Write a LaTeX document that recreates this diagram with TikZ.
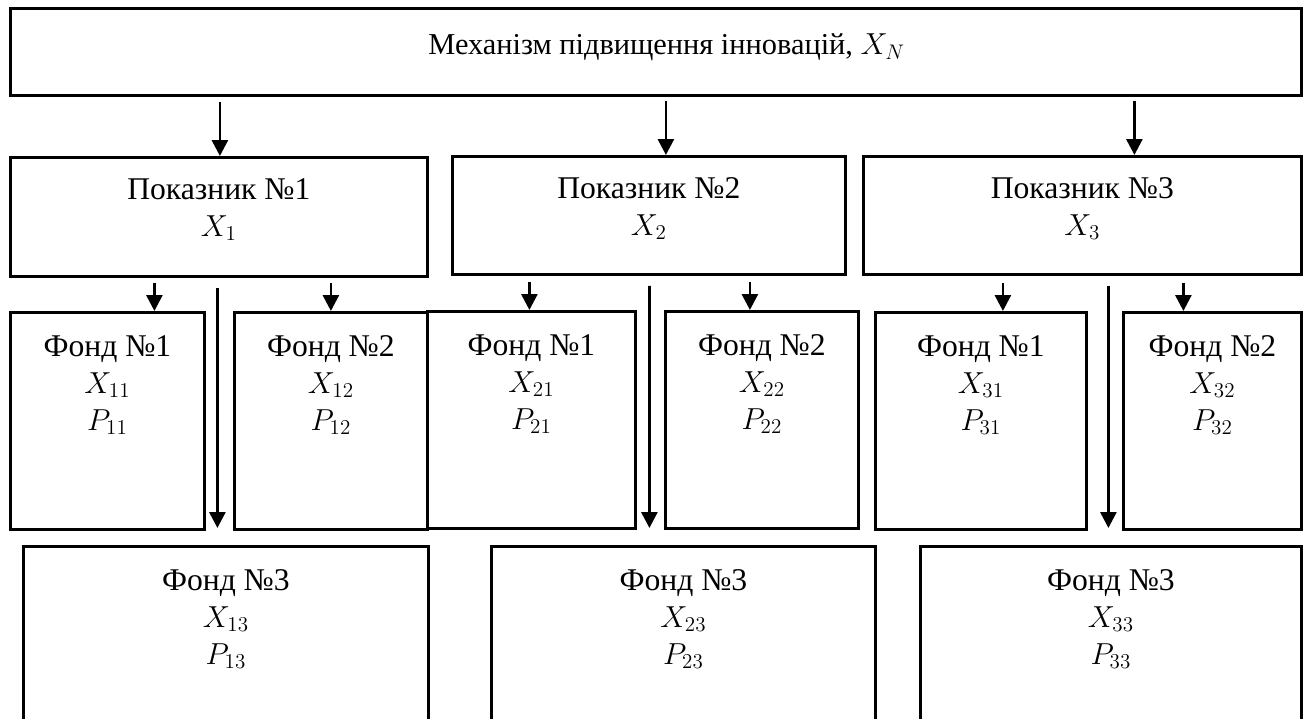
\documentclass[tikz,border=0pt]{standalone}
\usepackage{fontspec}
\setmainfont{Liberation Serif}
\usepackage{tikz}
\usetikzlibrary{arrows.meta, positioning}

\newlength{\px}
\setlength{\px}{0.02cm}
% width, height, top gap, text
\newcommand{\boxtext}[4]{\parbox[t][#2\px][t]{#1\px}{\centering\vspace*{#3\px}#4}}

\tikzset{
    box/.style={draw, rectangle, line width=1.6pt, inner sep=0pt, anchor=north west,
        font=\fontsize{18}{21}\selectfont},
    arr/.style={-{Triangle[width=9pt,length=9pt]}, line width=1.6pt}
}

\begin{document}
\begin{tikzpicture}[x=0.02cm, y=-0.02cm]
    \useasboundingbox (0,0) rectangle (1306,719);
    \clip (0,0) rectangle (1306,719);

    \node[box, line width=1.9pt, font=\fontsize{17.28}{21}\selectfont] (mech) at (9,7) {\boxtext{1291}{87}{25}{\hspace*{21\px}Механізм підвищення інновацій, $X_N$}};

    \node[box] (p1) at (9,156) {\boxtext{417}{119}{21}{Показник №1\\ $X_1$}};
    \node[box] (p2) at (451,155) {\boxtext{393}{118}{21}{Показник №2\\ $X_2$}};
    \node[box] (p3) at (862,155) {\boxtext{438}{118}{21}{Показник №3\\ $X_3$}};

    \node[box] (f11) at (9,311) {\boxtext{194}{217}{23}{Фонд №1\\ $X_{11}$\\ $P_{11}$}};
    \node[box] (f12) at (233,311) {\boxtext{193}{217}{23}{Фонд №2\\ $X_{12}$\\ $P_{12}$}};
    \node[box] (f21) at (426,310) {\boxtext{208}{217}{23}{Фонд №1\\ $X_{21}$\\ $P_{21}$}};
    \node[box] (f22) at (664,310) {\boxtext{193}{217}{23}{Фонд №2\\ $X_{22}$\\ $P_{22}$}};
    \node[box] (f31) at (874,311) {\boxtext{211}{217}{23}{Фонд №1\\ $X_{31}$\\ $P_{31}$}};
    \node[box] (f32) at (1122,311) {\boxtext{178}{217}{23}{Фонд №2\\ $X_{32}$\\ $P_{32}$}};

    \node[box] (f13) at (22,545) {\boxtext{405}{190}{23}{Фонд №3\\ $X_{13}$\\ $P_{13}$}};
    \node[box] (f23) at (490,545) {\boxtext{384}{190}{23}{Фонд №3\\ $X_{23}$\\ $P_{23}$}};
    \node[box] (f33) at (919,545) {\boxtext{381}{190}{23}{Фонд №3\\ $X_{33}$\\ $P_{33}$}};

    % mechanism -> indicators
    \draw[arr] ([xshift=1\px,yshift=54\px]p1.north) -- ([xshift=1\px]p1.north);
    \draw[arr] ([xshift=17\px,yshift=54\px]p2.north) -- ([xshift=17\px]p2.north);
    \draw[arr] ([xshift=52\px,yshift=54\px]p3.north) -- ([xshift=52\px]p3.north);

    % indicators -> funds 1 and 2
    \draw[arr] ([xshift=47\px,yshift=28\px]f11.north) -- ([xshift=47\px]f11.north);
    \draw[arr] ([yshift=28\px]f12.north) -- (f12.north);
    \draw[arr] ([xshift=-2\px,yshift=28\px]f21.north) -- ([xshift=-2\px]f21.north);
    \draw[arr] ([xshift=-12\px,yshift=28\px]f22.north) -- ([xshift=-12\px]f22.north);
    \draw[arr] ([xshift=22\px,yshift=28\px]f31.north) -- ([xshift=22\px]f31.north);
    \draw[arr] ([xshift=-29\px,yshift=28\px]f32.north) -- ([xshift=-29\px]f32.north);

    % indicators -> fund 3
    \draw[arr] ([xshift=-1.5\px,yshift=-10\px]p1.south) -- ([xshift=-8.5\px,yshift=17\px]f13.north);
    \draw[arr] ([xshift=0.5\px,yshift=-10\px]p2.south) -- ([xshift=-34\px,yshift=17\px]f23.north);
    \draw[arr] ([xshift=26\px,yshift=-10\px]p3.south) -- ([xshift=-2.5\px,yshift=17\px]f33.north);
\end{tikzpicture}
\end{document}
